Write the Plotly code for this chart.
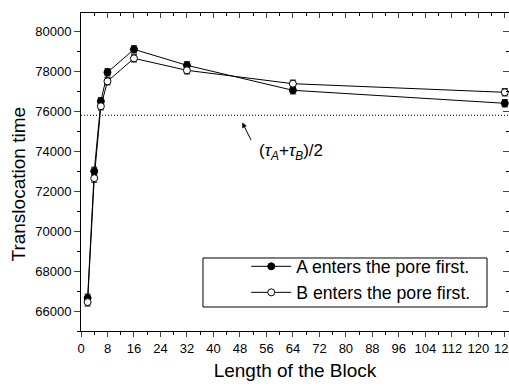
import plotly.graph_objects as go

block_len = [2, 4, 6, 8, 16, 32, 64, 128]
a_first = [66650, 73000, 76500, 77950, 79100, 78300, 77050, 76400]
a_err = [200, 200, 180, 180, 180, 180, 180, 180]
b_first = [66450, 72650, 76250, 77500, 78650, 78050, 77380, 76950]
b_err = [200, 200, 180, 180, 180, 180, 180, 180]
avg_tau = 75800

x_ticks = list(range(0, 129, 8))
font = "Arial, Liberation Sans, sans-serif"

fig = go.Figure()
fig.add_trace(go.Scatter(
    x=block_len, y=a_first, mode="lines+markers", name="A enters the pore first.",
    line=dict(color="black", width=1),
    marker=dict(symbol="circle", size=7, color="black", line=dict(color="black", width=1)),
    error_y=dict(type="data", array=a_err, color="black", thickness=1, width=3),
))
fig.add_trace(go.Scatter(
    x=block_len, y=b_first, mode="lines+markers", name="B enters the pore first.",
    line=dict(color="black", width=1),
    marker=dict(symbol="circle", size=7, color="white", line=dict(color="black", width=1)),
    error_y=dict(type="data", array=b_err, color="black", thickness=1, width=3),
))
# empty trace so the mirrored top/right axes get drawn
fig.add_trace(go.Scatter(x=[], y=[], xaxis="x2", yaxis="y2", showlegend=False, hoverinfo="skip"))

xr = [0, 129.27]
yr = [65000, 80920]

fig.update_layout(
    width=509, height=386,
    margin=dict(l=81, r=0, t=13, b=55, autoexpand=False),
    paper_bgcolor="white", plot_bgcolor="white",
    font=dict(family=font, color="black", size=13),
    showlegend=True,
    legend=dict(x=0.386, y=0.26, xanchor="left", yanchor="top",
                bgcolor="rgba(0,0,0,0)", borderwidth=0,
                font=dict(size=17.7, family=font), itemwidth=40,
                tracegroupgap=0),
    xaxis=dict(range=xr, tickvals=x_ticks, ticks="outside", ticklen=5, tickwidth=1,
               minor=dict(dtick=4, tick0=0, ticks="outside", ticklen=3, tickcolor="black"),
               showline=True, linecolor="black", linewidth=1, showgrid=False, zeroline=False,
               tickfont=dict(size=13), ticklabeloverflow="allow", automargin=False,
               title=dict(text="Length of the Block", font=dict(size=19), standoff=9)),
    xaxis2=dict(range=xr, overlaying="x", side="top", anchor="y2", tickvals=x_ticks,
                ticks="inside", ticklen=5, showticklabels=False, automargin=False,
                minor=dict(dtick=4, tick0=0, ticks="inside", ticklen=3, tickcolor="black"),
                showline=True, linecolor="black", linewidth=1, showgrid=False, zeroline=False),
    yaxis=dict(range=yr, dtick=2000, tick0=0, tickformat="d", ticks="outside", ticklen=6,
               minor=dict(dtick=1000, tick0=0, ticks="outside", ticklen=3, tickcolor="black"),
               showline=True, linecolor="black", linewidth=1, showgrid=False, zeroline=False,
               tickfont=dict(size=13), automargin=False),
    yaxis2=dict(range=yr, overlaying="y", side="right", anchor="x2", dtick=2000, tick0=0,
                ticks="inside", ticklen=6, showticklabels=False, automargin=False,
                minor=dict(dtick=1000, tick0=0, ticks="inside", ticklen=3, tickcolor="black"),
                showline=True, linecolor="black", linewidth=1, showgrid=False, zeroline=False),
)

# y-axis title (placed as in the original, slightly below the axis centre)
fig.add_annotation(x=-0.1449, y=0.4638, xref="paper", yref="paper", xanchor="center",
                   yanchor="middle", textangle=-90, text="Translocation time",
                   showarrow=False, font=dict(size=19, family=font))

# dotted reference line
fig.add_shape(type="line", xref="paper", yref="y", x0=0, x1=1, y0=avg_tau, y1=avg_tau,
              line=dict(color="black", width=1, dash="1px,2px"))
# legend frame
fig.add_shape(type="rect", xref="paper", yref="paper", x0=0.285, x1=0.9486, y0=0.0755, y1=0.2296,
              line=dict(color="black", width=1))

fig.add_annotation(x=48.7, y=75436, ax=51.6, ay=74484, axref="x", ayref="y", xref="x", yref="y",
                   text="", showarrow=True, arrowhead=2, arrowsize=1, arrowwidth=1,
                   arrowcolor="black", standoff=0, startstandoff=0)
fig.add_annotation(x=53.2, y=73963, xref="x", yref="y", xanchor="left", yanchor="middle",
                   text="(<i>τ</i><sub><i>A</i></sub>+<i>τ</i><sub><i>B</i></sub>)/2",
                   showarrow=False, font=dict(size=17, family=font))

fig.write_html("out.html")
